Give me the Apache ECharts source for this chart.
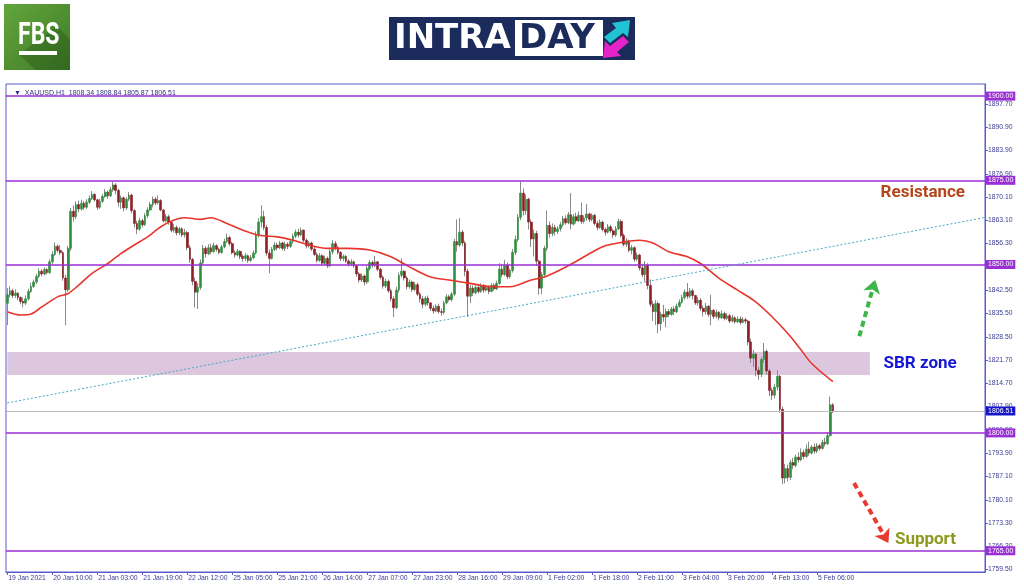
<!DOCTYPE html>
<html>
<head>
<meta charset="utf-8">
<title>XAUUSD H1 intraday</title>
<script src="https://cdn.jsdelivr.net/npm/echarts@6.0.0/dist/echarts.min.js"></script>
<style>
  html, body { margin: 0; padding: 0; background: #fff; }
  #chart { width: 1024px; height: 587px; }
</style>
</head>
<body>
<div id="chart"></div>
<script>
// ---- data ----
const X_LABELS = ['19 Jan 2021', '20 Jan 10:00', '21 Jan 03:00', '21 Jan 19:00', '22 Jan 12:00',
  '25 Jan 05:00', '25 Jan 21:00', '26 Jan 14:00', '27 Jan 07:00', '27 Jan 23:00', '28 Jan 16:00',
  '29 Jan 09:00', '1 Feb 02:00', '1 Feb 18:00', '2 Feb 11:00', '3 Feb 04:00', '3 Feb 20:00',
  '4 Feb 13:00', '5 Feb 06:00']
const LABEL_STEP = 17
const SLOT_COUNT = 370

const Y_TICKS = [1759.5, 1766.3, 1773.3, 1780.1, 1787.1, 1793.9, 1800.9, 1807.9, 1814.7, 1821.7,
  1828.5, 1835.5, 1842.5, 1849.3, 1856.3, 1863.1, 1870.1, 1876.9, 1883.9, 1890.9, 1897.7]

const FIRST_OPEN = 1838.5
const CLOSE = [
  1841.0, 1842.2, 1840.8, 1841.5, 1840.2, 1839.0, 1838.6, 1839.8, 1842.0, 1843.5,
  1844.8, 1846.5, 1848.0, 1847.2, 1848.5, 1847.6, 1850.8, 1853.0, 1855.4, 1854.2,
  1853.5, 1846.0, 1842.5, 1854.8, 1865.8, 1864.2, 1867.8, 1866.5, 1868.2, 1867.0,
  1868.5, 1869.6, 1870.8, 1869.2, 1867.0, 1868.8, 1870.2, 1871.5, 1870.4, 1872.2,
  1873.6, 1872.0, 1868.5, 1869.8, 1866.8, 1869.4, 1870.6, 1866.0, 1862.2, 1860.5,
  1863.0, 1861.8, 1864.5, 1866.2, 1867.8, 1869.4, 1868.3, 1869.0, 1866.2, 1863.0,
  1864.2, 1862.5, 1860.2, 1861.0, 1859.4, 1860.6, 1858.8, 1859.5, 1855.0, 1851.5,
  1845.0, 1841.8, 1843.2, 1850.5, 1854.8, 1853.2, 1855.0, 1853.8, 1855.6, 1854.5,
  1853.6, 1855.2, 1856.8, 1858.0, 1856.2, 1853.5, 1852.8, 1853.9, 1852.4, 1851.8,
  1852.6, 1851.2, 1852.0, 1853.4, 1858.8, 1862.6, 1864.2, 1861.0, 1853.4, 1851.8,
  1854.5, 1855.8, 1855.0, 1856.4, 1854.8, 1856.0, 1855.4, 1856.8, 1858.4, 1859.6,
  1858.8, 1860.2, 1857.2, 1855.5, 1856.4, 1854.6, 1853.0, 1851.2, 1852.6, 1850.4,
  1851.8, 1849.6, 1853.8, 1856.2, 1855.0, 1853.6, 1851.8, 1852.4, 1851.0, 1850.2,
  1850.8, 1849.6, 1847.2, 1845.4, 1846.6, 1844.8, 1848.8, 1850.6, 1849.8, 1850.8,
  1848.6, 1846.2, 1843.6, 1845.0, 1842.2, 1839.8, 1837.2, 1842.4, 1846.8, 1848.0,
  1846.0, 1843.4, 1844.8, 1842.6, 1844.0, 1841.2, 1839.8, 1838.2, 1840.0, 1838.6,
  1837.0, 1836.2, 1837.6, 1836.0, 1835.8, 1838.6, 1840.4, 1839.6, 1841.2, 1856.8,
  1855.8, 1859.6, 1856.4, 1848.0, 1840.6, 1843.0, 1841.6, 1843.2, 1842.0, 1843.6,
  1842.4, 1843.2, 1842.0, 1843.8, 1842.8, 1844.4, 1848.6, 1847.0, 1849.8, 1846.4,
  1848.2, 1853.6, 1857.4, 1864.0, 1871.2, 1866.0, 1869.4, 1862.6, 1857.6, 1859.2,
  1851.0, 1843.0, 1847.0, 1854.8, 1861.6, 1859.2, 1861.0, 1859.8, 1860.6, 1861.8,
  1863.6, 1862.4, 1864.8, 1862.0, 1864.2, 1863.0, 1864.6, 1862.8, 1863.8, 1865.0,
  1863.4, 1864.6, 1862.2, 1861.0, 1862.6, 1860.4, 1859.6, 1861.2, 1860.0, 1858.8,
  1860.6, 1862.8, 1858.6, 1856.0, 1857.0, 1854.2, 1855.0, 1851.6, 1852.8, 1849.0,
  1847.0, 1849.8, 1843.8, 1838.2, 1836.0, 1838.4, 1832.4, 1835.2, 1834.4, 1836.0,
  1835.2, 1836.8, 1836.0, 1837.6, 1838.8, 1840.2, 1841.8, 1840.6, 1842.2, 1840.8,
  1838.6, 1839.4, 1837.0, 1836.0, 1837.6, 1835.2, 1836.4, 1834.6, 1835.8, 1834.2,
  1835.4, 1834.0, 1834.8, 1833.2, 1834.2, 1833.0, 1833.8, 1832.8, 1833.6, 1833.2,
  1827.0, 1822.2, 1823.4, 1818.6, 1817.4, 1821.8, 1824.2, 1818.4, 1812.6, 1811.2,
  1813.6, 1816.8, 1807.0, 1786.6, 1789.4, 1786.8, 1791.2, 1790.4, 1792.8, 1792.0,
  1794.2, 1793.0, 1795.2, 1794.0, 1795.8, 1794.6, 1796.2, 1795.4, 1797.2, 1796.8,
  1799.2, 1808.34, 1806.51
]
const HIGH = [
  1843.0, 1843.5, 1842.8, 1842.6, 1841.8, 1840.6, 1840.2, 1840.8, 1842.8, 1844.6,
  1845.5, 1847.2, 1848.9, 1848.6, 1849.2, 1848.9, 1851.5, 1854.0, 1856.6, 1856.0,
  1855.8, 1853.9, 1847.0, 1855.5, 1866.8, 1867.5, 1868.8, 1869.0, 1869.2, 1868.8,
  1869.4, 1870.5, 1871.8, 1871.2, 1869.5, 1869.5, 1871.0, 1872.4, 1872.0, 1873.0,
  1874.6, 1874.2, 1872.5, 1870.5, 1870.2, 1870.0, 1871.5, 1871.0, 1866.5, 1863.0,
  1863.8, 1863.6, 1865.2, 1867.0, 1868.6, 1870.2, 1870.0, 1870.5, 1869.4, 1866.5,
  1865.0, 1864.8, 1863.0, 1862.0, 1861.6, 1861.2, 1861.0, 1860.6, 1860.0, 1855.8,
  1852.0, 1846.2, 1844.5, 1851.5, 1855.8, 1855.5, 1856.0, 1856.2, 1856.5, 1856.0,
  1855.0, 1855.8, 1857.6, 1859.2, 1858.6, 1856.8, 1854.2, 1854.6, 1854.2, 1853.0,
  1853.4, 1853.0, 1852.8, 1854.2, 1859.8, 1863.8, 1867.6, 1866.0, 1861.8, 1854.5,
  1855.2, 1856.6, 1856.5, 1857.0, 1856.8, 1856.8, 1856.6, 1857.4, 1859.2, 1860.4,
  1860.6, 1861.0, 1860.4, 1857.8, 1857.0, 1856.8, 1855.2, 1853.6, 1853.4, 1853.0,
  1852.6, 1852.4, 1854.5, 1857.2, 1857.0, 1855.6, 1854.0, 1853.0, 1852.8, 1851.6,
  1851.6, 1851.2, 1850.0, 1847.8, 1847.4, 1847.0, 1849.6, 1851.4, 1851.2, 1852.6,
  1851.0, 1849.0, 1846.8, 1845.8, 1845.6, 1842.8, 1840.6, 1843.4, 1847.6, 1851.8,
  1848.4, 1846.6, 1845.6, 1845.2, 1844.8, 1844.6, 1841.8, 1840.6, 1840.6, 1840.8,
  1838.8, 1837.8, 1838.2, 1838.4, 1837.0, 1839.2, 1841.2, 1841.0, 1841.8, 1857.6,
  1863.4, 1863.8, 1860.2, 1857.0, 1848.8, 1844.0, 1843.8, 1844.0, 1844.2, 1844.4,
  1844.2, 1844.0, 1843.8, 1844.4, 1844.4, 1845.2, 1850.4, 1850.0, 1851.4, 1850.6,
  1848.8, 1854.6, 1858.6, 1865.0, 1874.6, 1872.6, 1870.8, 1869.8, 1863.4, 1860.4,
  1860.0, 1851.4, 1847.8, 1855.6, 1866.0, 1862.8, 1862.2, 1861.8, 1861.4, 1862.6,
  1864.4, 1864.6, 1865.6, 1871.2, 1865.0, 1865.4, 1865.8, 1868.4, 1864.6, 1868.0,
  1865.4, 1865.2, 1865.0, 1863.0, 1863.4, 1863.0, 1861.0, 1862.0, 1861.8, 1860.6,
  1861.4, 1863.6, 1863.4, 1859.2, 1857.8, 1857.4, 1855.8, 1855.4, 1853.6, 1853.2,
  1850.2, 1851.0, 1850.4, 1845.6, 1839.2, 1839.4, 1839.0, 1836.0, 1838.0, 1837.0,
  1836.8, 1837.4, 1837.6, 1838.4, 1839.6, 1841.0, 1842.6, 1844.5, 1843.0, 1842.8,
  1841.0, 1840.4, 1840.0, 1837.8, 1838.6, 1838.0, 1841.0, 1836.8, 1836.6, 1836.2,
  1836.4, 1836.0, 1835.6, 1835.4, 1835.0, 1834.6, 1834.6, 1834.6, 1834.4, 1834.2,
  1833.6, 1828.0, 1824.6, 1823.8, 1819.6, 1822.6, 1826.7, 1824.8, 1819.0, 1813.4,
  1814.6, 1818.6, 1817.2, 1807.8, 1790.8, 1790.6, 1792.0, 1792.6, 1793.6, 1794.2,
  1795.4, 1795.0, 1796.6, 1797.4, 1796.4, 1796.8, 1797.0, 1796.8, 1798.0, 1798.6,
  1800.2, 1810.8, 1808.84
]
const LOW = [
  1832.0, 1840.2, 1840.0, 1840.1, 1839.5, 1838.2, 1837.3, 1838.0, 1839.3, 1841.6,
  1843.0, 1844.2, 1846.0, 1846.5, 1846.8, 1847.0, 1847.2, 1850.2, 1852.6, 1853.5,
  1852.8, 1845.2, 1832.0, 1841.8, 1854.0, 1862.8, 1863.5, 1865.5, 1866.0, 1866.2,
  1866.5, 1868.0, 1869.2, 1868.6, 1866.2, 1866.5, 1868.2, 1869.8, 1869.5, 1870.0,
  1871.6, 1870.8, 1867.2, 1866.5, 1865.8, 1866.2, 1868.8, 1865.2, 1861.0, 1859.0,
  1860.0, 1861.0, 1861.5, 1863.8, 1865.8, 1867.0, 1867.6, 1867.8, 1865.8, 1862.5,
  1862.5, 1861.8, 1859.6, 1859.5, 1858.6, 1858.8, 1858.2, 1858.0, 1854.2, 1850.5,
  1843.8, 1837.2, 1836.8, 1842.5, 1850.0, 1852.0, 1852.8, 1853.0, 1853.5, 1853.8,
  1853.0, 1853.2, 1854.8, 1856.4, 1855.5, 1853.0, 1852.0, 1852.4, 1851.6, 1850.8,
  1851.0, 1850.5, 1850.8, 1851.6, 1853.0, 1858.0, 1861.0, 1860.2, 1852.6, 1847.4,
  1851.5, 1854.0, 1854.2, 1854.6, 1854.2, 1854.0, 1854.6, 1855.0, 1856.2, 1857.8,
  1858.0, 1858.4, 1856.6, 1854.8, 1855.0, 1854.0, 1852.5, 1850.6, 1850.8, 1849.6,
  1849.8, 1849.0, 1849.2, 1853.0, 1854.2, 1853.0, 1851.0, 1851.0, 1850.4, 1849.4,
  1849.6, 1849.0, 1846.4, 1844.6, 1844.8, 1843.8, 1844.2, 1848.2, 1849.0, 1849.2,
  1848.0, 1845.6, 1842.8, 1843.0, 1841.6, 1839.0, 1834.4, 1836.8, 1841.6, 1846.2,
  1845.2, 1842.6, 1842.8, 1841.8, 1842.0, 1840.6, 1838.8, 1837.0, 1837.6, 1837.8,
  1836.2, 1835.4, 1835.8, 1835.4, 1834.8, 1835.2, 1838.2, 1839.0, 1839.0, 1840.6,
  1853.8, 1855.2, 1855.4, 1846.5, 1834.4, 1838.6, 1840.6, 1841.2, 1841.4, 1841.6,
  1841.6, 1842.0, 1841.2, 1841.8, 1842.2, 1842.4, 1844.0, 1846.2, 1846.6, 1845.6,
  1845.8, 1847.6, 1852.8, 1856.8, 1863.2, 1864.6, 1864.8, 1860.4, 1855.2, 1852.4,
  1849.6, 1841.0, 1841.2, 1846.2, 1854.0, 1858.0, 1858.4, 1858.6, 1859.0, 1859.8,
  1861.2, 1861.8, 1862.0, 1860.4, 1861.6, 1862.2, 1862.6, 1862.0, 1862.2, 1863.0,
  1862.6, 1862.8, 1861.6, 1860.2, 1860.6, 1859.8, 1858.6, 1859.2, 1859.4, 1857.8,
  1858.2, 1860.2, 1858.0, 1855.4, 1855.2, 1853.6, 1853.0, 1850.8, 1851.0, 1848.2,
  1846.2, 1845.0, 1842.6, 1837.4, 1833.2, 1832.0, 1829.6, 1830.4, 1833.0, 1831.4,
  1834.4, 1834.8, 1835.0, 1835.6, 1837.2, 1838.4, 1839.6, 1839.8, 1840.0, 1839.6,
  1838.0, 1837.8, 1836.2, 1834.6, 1835.2, 1834.4, 1832.0, 1833.8, 1834.0, 1833.4,
  1833.8, 1833.4, 1833.6, 1832.6, 1832.8, 1832.4, 1832.6, 1832.2, 1832.6, 1832.4,
  1826.0, 1820.8, 1819.6, 1816.8, 1815.8, 1816.6, 1820.8, 1817.2, 1811.0, 1809.8,
  1810.2, 1812.6, 1806.0, 1784.8, 1785.0, 1785.6, 1786.0, 1789.2, 1789.8, 1791.2,
  1791.6, 1792.2, 1792.6, 1793.2, 1793.6, 1793.8, 1794.0, 1794.8, 1795.0, 1796.0,
  1796.4, 1798.8, 1805.87
]

// moving average, read at sample bars
const MA_X = [0, 5, 9, 13, 19, 23, 27, 32, 38, 43, 48, 53, 58, 63, 67, 73, 77, 83, 89, 95,
  102, 108, 114, 121, 129, 137, 145, 152, 160, 167, 175, 183, 190, 198, 203, 210, 218, 225,
  233, 239, 244, 250, 257, 262, 269, 276, 282, 289, 295, 300, 304, 312]
const MA_Y = [1836.0, 1835.0, 1835.3, 1837.4, 1840.4, 1841.4, 1843.9, 1847.4, 1850.3, 1853.3,
  1855.8, 1858.2, 1861.2, 1863.2, 1863.9, 1863.4, 1863.9, 1862.2, 1860.2, 1858.7,
  1858.2, 1857.2, 1855.8, 1854.8, 1854.8, 1854.3, 1852.3, 1849.3, 1846.3, 1845.4,
  1844.4, 1843.4, 1843.4, 1845.4, 1846.3, 1848.8, 1852.3, 1855.3, 1856.7, 1857.2,
  1856.4, 1853.8, 1852.3, 1850.3, 1845.9, 1842.4, 1839.4, 1834.5, 1829.5, 1824.6,
  1820.6, 1815.2]

const LEVELS = [1900, 1875, 1850, 1800, 1765]
const LAST_PRICE = 1806.51
const SBR_ZONE = [1817.2, 1824.0]
const TREND = [[0, 1808.9], [369, 1863.9]]
const UP_ARROW = [[322, 1828.7], [328, 1845.4]]
const DOWN_ARROW = [[320, 1785.1], [333, 1767.3]]

if (CLOSE.length !== HIGH.length || CLOSE.length !== LOW.length) {
  throw new Error('length mismatch ' + CLOSE.length + ' ' + HIGH.length + ' ' + LOW.length)
}

// ---- styles ----
const FONT = "'Liberation Sans', Arial, sans-serif"
const COLORS = {
  axis: '#5a5ad0',
  axisText: '#3c3c96',
  level: '#9b2fd6',
  lastTag: '#1616c8',
  lastLine: '#b8b8b8',
  wick: '#8a8a8a',
  bull: '#2f8f3c',
  bear: '#8c1f26',
  ma: '#e8352c',
  trend: '#45a8c8',
  zone: '#d8c1db',
}

const candles = CLOSE.map((c, i) => [i === 0 ? FIRST_OPEN : CLOSE[i - 1], c, LOW[i], HIGH[i]])
const bodies = candles.map(([o, c]) => [o, c, Math.min(o, c), Math.max(o, c)])
const slots = Array.from({ length: SLOT_COUNT }, (_, i) => String(i))
const showTick = i => i % LABEL_STEP === 0 && i / LABEL_STEP < X_LABELS.length

const tagLabel = (text, bg) => ({
  show: true, position: 'end', distance: 1, formatter: text,
  backgroundColor: bg, color: '#fff', fontSize: 7, fontFamily: FONT,
  padding: [1, 2, 1, 2],
})
const levelLines = LEVELS.map(v => ({
  yAxis: v,
  lineStyle: { color: COLORS.level, width: 1.6, type: 'solid' },
  label: tagLabel(v.toFixed(2), COLORS.level),
}))
const lastLine = {
  yAxis: LAST_PRICE,
  lineStyle: { color: COLORS.lastLine, width: 1, type: 'solid' },
  label: tagLabel(LAST_PRICE.toFixed(2), COLORS.lastTag),
}
const arrowLine = (pts, color) => [
  { coord: pts[0], symbol: 'none', lineStyle: { color, width: 4, type: [6, 4] }, label: { show: false } },
  { coord: pts[1], symbol: 'arrow', symbolSize: [13, 13] },
]

const chart = echarts.init(document.getElementById('chart'), null, { renderer: 'canvas' })

chart.setOption({
  animation: false,
  backgroundColor: '#fff',
  title: {
    text: '\u25BC  XAUUSD,H1  1808.34 1808.84 1805.87 1806.51',
    left: 9, top: 85,
    textStyle: { fontSize: 7, fontWeight: 'normal', color: '#2d2d80', fontFamily: FONT },
  },
  grid: {
    left: 6, right: 39, top: 84, bottom: 15,
    show: true, borderColor: COLORS.axis, borderWidth: 1, backgroundColor: '#fff',
  },
  xAxis: {
    type: 'category',
    data: slots,
    boundaryGap: true,
    axisLine: { lineStyle: { color: COLORS.axis } },
    axisTick: { show: true, length: 3, alignWithLabel: true, interval: showTick, lineStyle: { color: COLORS.axis } },
    axisLabel: {
      interval: showTick,
      formatter: v => X_LABELS[Math.round(Number(v) / LABEL_STEP)] || '',
      align: 'left', margin: 3, padding: [0, 0, 0, 1],
      fontSize: 6.8, color: COLORS.axisText, fontFamily: FONT,
    },
    splitLine: { show: false },
  },
  yAxis: {
    type: 'value',
    position: 'right',
    min: 1758.7,
    max: 1903.6,
    scale: true,
    axisLine: { show: true, lineStyle: { color: COLORS.axis } },
    axisTick: { show: true, length: 3, customValues: Y_TICKS, lineStyle: { color: COLORS.axis } },
    axisLabel: {
      customValues: Y_TICKS,
      formatter: v => Number(v).toFixed(2),
      margin: 3, fontSize: 6.8, color: COLORS.axisText, fontFamily: FONT,
    },
    splitLine: { show: false },
  },
  graphic: [
    // FBS badge
    {
      type: 'rect', shape: { x: 4, y: 4, width: 66, height: 66 },
      style: {
        fill: new echarts.graphic.LinearGradient(0, 0, 1, 1, [
          { offset: 0, color: '#62a53c' }, { offset: 1, color: '#3f7b27' },
        ]),
      },
    },
    {
      type: 'polygon', shape: { points: [[19, 55], [57, 25], [70, 40], [70, 70], [36, 70]] },
      style: { fill: 'rgba(20,60,10,0.28)' },
    },
    {
      type: 'text', x: 18, y: 36, scaleX: 0.72,
      style: { text: 'FBS', fill: '#fff', font: 'bold 32px Roboto', verticalAlign: 'middle' },
    },
    { type: 'rect', shape: { x: 19, y: 51, width: 38, height: 4 }, style: { fill: '#fff' } },
    // INTRADAY badge
    { type: 'rect', shape: { x: 389, y: 17, width: 246, height: 43 }, style: { fill: '#1b2b5c' } },
    { type: 'rect', shape: { x: 515, y: 20, width: 88, height: 36 }, style: { fill: '#fff' } },
    {
      type: 'text', x: 394, y: 39,
      style: { text: 'INTRA', fill: '#fff', font: "bold 34px 'DejaVu Sans'", verticalAlign: 'middle' },
    },
    {
      type: 'text', x: 519, y: 39,
      style: { text: 'DAY', fill: '#1b2b5c', font: "bold 34px 'DejaVu Sans'", verticalAlign: 'middle' },
    },
    {
      type: 'polygon',
      shape: { points: [[604, 37], [616, 28], [612, 23], [630, 20], [628, 37], [623, 33], [610, 43]] },
      style: { fill: '#22c3d3' },
    },
    {
      type: 'polygon',
      shape: { points: [[629, 42], [617, 52], [621, 56], [603, 58], [605, 41], [610, 46], [623, 36]] },
      style: { fill: '#e424c6' },
    },
  ],
  series: [
    {
      name: 'wicks',
      type: 'candlestick',
      z: 2,
      barWidth: 1,
      data: candles,
      itemStyle: {
        color: COLORS.wick, color0: COLORS.wick,
        borderColor: COLORS.wick, borderColor0: COLORS.wick, borderWidth: 1,
      },
      markArea: {
        silent: true,
        itemStyle: { color: COLORS.zone, opacity: 0.9 },
        data: [[{ coord: [0, SBR_ZONE[1]] }, { coord: [326, SBR_ZONE[0]] }]],
      },
    },
    {
      name: 'bodies',
      type: 'candlestick',
      z: 3,
      barWidth: 2.2,
      data: bodies,
      itemStyle: {
        color: COLORS.bull, color0: COLORS.bear,
        borderColor: COLORS.bull, borderColor0: COLORS.bear, borderWidth: 0.6,
      },
    },
    {
      name: 'MA',
      type: 'line',
      z: 4,
      smooth: 0.3,
      showSymbol: false,
      data: MA_X.map((x, i) => [x, MA_Y[i]]),
      lineStyle: { color: COLORS.ma, width: 1.6 },
      markLine: {
        silent: true,
        symbol: 'none',
        animation: false,
        data: [
          ...levelLines,
          lastLine,
          [
            { coord: TREND[0], lineStyle: { color: COLORS.trend, width: 1, type: [2, 2] }, label: { show: false } },
            { coord: TREND[1] },
          ],
          arrowLine(UP_ARROW, '#3cb54a'),
          arrowLine(DOWN_ARROW, '#e83a30'),
        ],
      },
      markPoint: {
        silent: true,
        symbol: 'circle',
        symbolSize: 1,
        itemStyle: { color: 'rgba(0,0,0,0)' },
        label: { show: true, position: 'inside', fontFamily: 'Roboto', fontWeight: 'bold', fontSize: 17 },
        data: [
          { coord: [346, 1871.2], label: { formatter: 'Resistance', color: '#b5451c' } },
          { coord: [345, 1820.4], label: { formatter: 'SBR zone', color: '#1616d6' } },
          { coord: [347, 1768.2], label: { formatter: 'Support', color: '#8c991c' } },
        ],
      },
    },
  ],
})
</script>
</body>
</html>
